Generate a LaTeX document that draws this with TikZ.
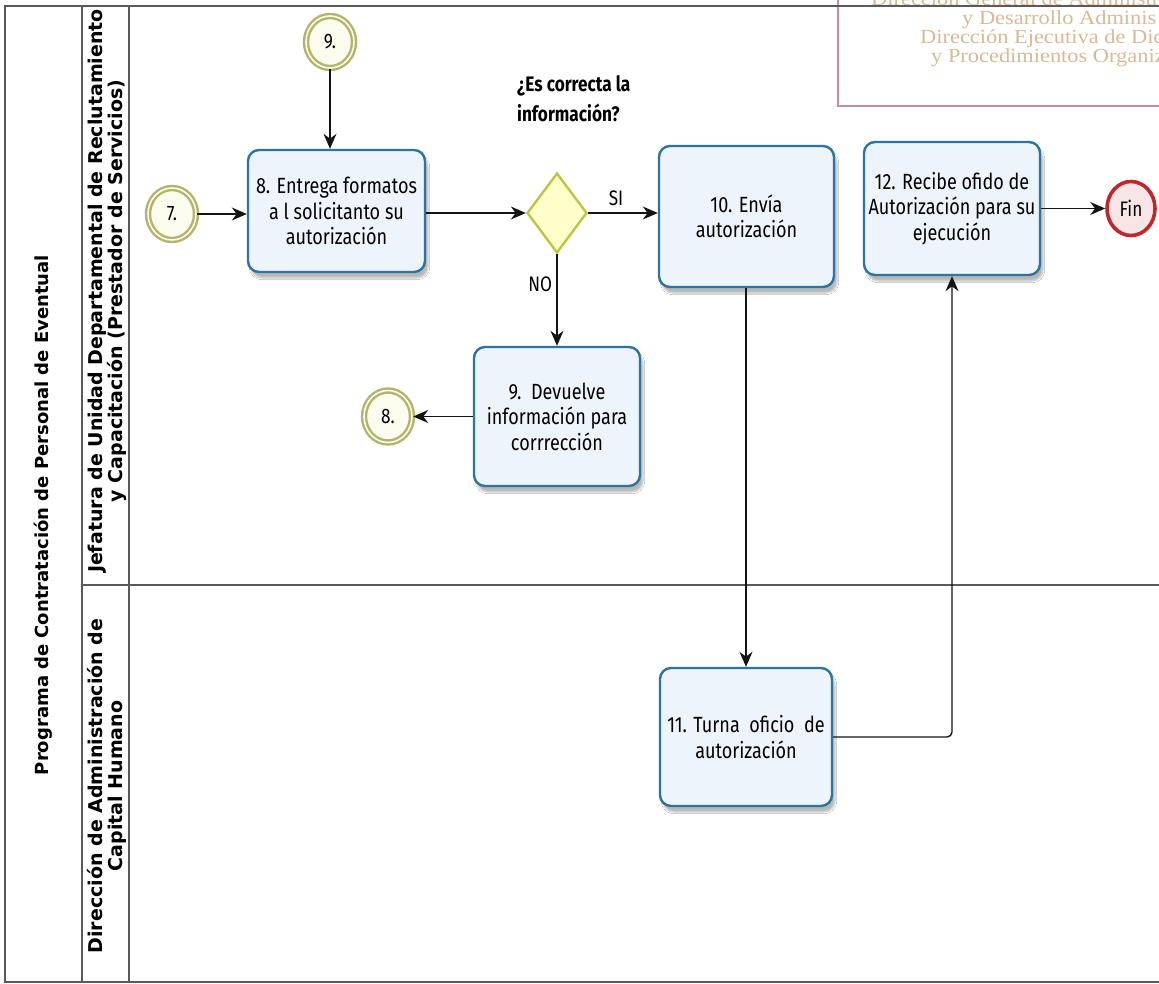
\documentclass[tikz,border=0pt]{standalone}
\usepackage{fontspec}
\usetikzlibrary{arrows.meta,shapes.geometric,shadows.blur}
\newfontfamily\taskfont[FakeStretch=0.82]{Fira Sans}
\newfontfamily\labelfont{DejaVu Sans}
\newfontfamily\headfont[FakeStretch=1.12]{Liberation Serif}

\definecolor{frameline}{HTML}{5A5A5A}
\definecolor{taskborder}{HTML}{2E74A0}
\definecolor{taskfill}{HTML}{EEF4FB}
\definecolor{linkborder}{HTML}{B3B46C}
\definecolor{linkfill}{HTML}{FCFCEE}
\definecolor{gateborder}{HTML}{BCC640}
\definecolor{gatefill}{HTML}{FFFFCB}
\definecolor{endborder}{HTML}{C0272D}
\definecolor{endfill}{HTML}{F8E6E6}
\definecolor{headborder}{HTML}{C68DA0}
\definecolor{headtext}{HTML}{D8BA96}
\definecolor{flow}{HTML}{141414}

\tikzset{
  taskbox/.style={draw=taskborder, line width=2.4pt, fill=taskfill,
    rounded corners=11pt, align=center, inner sep=4pt,
    font=\taskfont\fontsize{22}{25.5}\selectfont,
    blur shadow={shadow xshift=3pt, shadow yshift=-6pt, shadow opacity=28, shadow blur steps=6}},
  linkevent/.style={ellipse, draw=linkborder, line width=2.4pt, double=linkfill,
    double distance=1.6pt, fill=linkfill, minimum width=48pt, minimum height=52pt,
    inner sep=0pt, font=\taskfont\fontsize{21}{24}\selectfont},
  endevent/.style={ellipse, draw=endborder, line width=3.6pt, fill=endfill,
    minimum width=48pt, minimum height=54pt, inner sep=0pt,
    font=\taskfont\fontsize{21}{24}\selectfont},
  gateway/.style={diamond, draw=gateborder, line width=2.4pt, fill=gatefill,
    minimum width=60pt, minimum height=80pt, inner sep=0pt},
  flowline/.style={draw=flow, line width=1.4pt, -{Stealth[length=15pt,width=13pt]}},
  flowtext/.style={font=\taskfont\fontsize{21}{24}\selectfont},
  lanetext/.style={rotate=90, align=center, font=\labelfont\bfseries\fontsize{19}{20}\selectfont},
  headline/.style={anchor=base west, text=headtext, inner sep=0pt,
    font=\headfont\fontsize{20}{19}\selectfont}
}

\begin{document}
\begin{tikzpicture}[x=1pt,y=-1pt]
\clip (0,0) rectangle (1159,984);
\fill[white] (0,0) rectangle (1159,984);

% letterhead box in the upper right corner
\draw[headborder, line width=1.4pt, fill=white] (838,-10) rectangle (1200,106);
\node[headline] (h1) at (871,6) {Dirección General de Administra};
\node[headline] (h2) at (962,25) {y Desarrollo Adminis};
\node[headline] (h3) at (920,44) {Dirección Ejecutiva de Dic};
\node[headline] (h4) at (931,63) {y Procedimientos Organiz};

% pool and lanes
\draw[frameline, line width=1.5pt] (5,6) rectangle (1200,982);
\draw[frameline, line width=1.3pt] (82,6) -- (82,982);
\draw[frameline, line width=1.3pt] (129,6) -- (129,982);
\draw[frameline, line width=1.3pt] (82,585) -- (1200,585);

\node[lanetext, font=\labelfont\bfseries\fontsize{18}{20}\selectfont] (pool) at (43,515)
  {Programa de Contratación de Personal de Eventual};
\node[lanetext] (lane1) at (107,291) {Jefatura de Unidad Departamental de Reclutamiento\\y Capacitación (Prestador de Servicios)};
\node[lanetext] (lane2) at (107,786) {Dirección de Administración de\\Capital Humano};

% activities
\node[taskbox, minimum width=177pt, minimum height=122pt] (t8) at (336.5,211)
  {8. Entrega formatos\\a l solicitanto su\\autorización};
\node[taskbox, minimum width=175pt, minimum height=141pt] (t10) at (746.5,216.5)
  {10. Envía\\autorización};
\node[taskbox, minimum width=166pt, minimum height=139pt] (t9) at (557,416.5)
  {9.\ \ Devuelve\\información para\\corrrección};
\node[taskbox, minimum width=176pt, minimum height=133pt] (t12) at (952,208.5)
  {12. Recibe ofido de\\Autorización para su\\ejecución};
\node[taskbox, minimum width=172pt, minimum height=138pt] (t11) at (746,737)
  {11. Turna\ \ oficio\ \ de\\autorización};

% events and gateway
\node[linkevent] (c9) at (330,42) {9.};
\node[linkevent] (c7) at (172,214) {7.};
\node[linkevent] (c8) at (388,416.5) {8.};
\node[endevent] (fin) at (1131,208.5) {Fin};
\node[gateway] (gw) at (557,213) {};

\node[anchor=north west, align=left, inner sep=0pt,
  font=\taskfont\bfseries\fontsize{21}{30}\selectfont] (question) at (517,75)
  {¿Es correcta la\\información?};

% sequence flows
\draw[flowline] (c9.south) -- (c9.south |- t8.north);
\draw[flowline] (c7.east) -- (c7.east -| t8.west);
\draw[flowline] (gw.west -| t8.east) -- (gw.west);
\draw[flowline] (gw.east) -- (gw.east -| t10.west)
  node[flowtext, pos=0.4, above=3pt] (si) {SI};
\draw[flowline] (gw.south) -- (t9.north)
  node[flowtext, pos=0.33, left=1pt] (no) {NO};
\draw[flowline] (t9.west) -- (c8.east);
\draw[flowline] (t10.south -| t11.north) -- (t11.north);
\draw[flowline, rounded corners=5pt] (t11.east) -| (t12.south);
\draw[flowline] (t12.east) -- (fin.west);
\end{tikzpicture}
\end{document}
